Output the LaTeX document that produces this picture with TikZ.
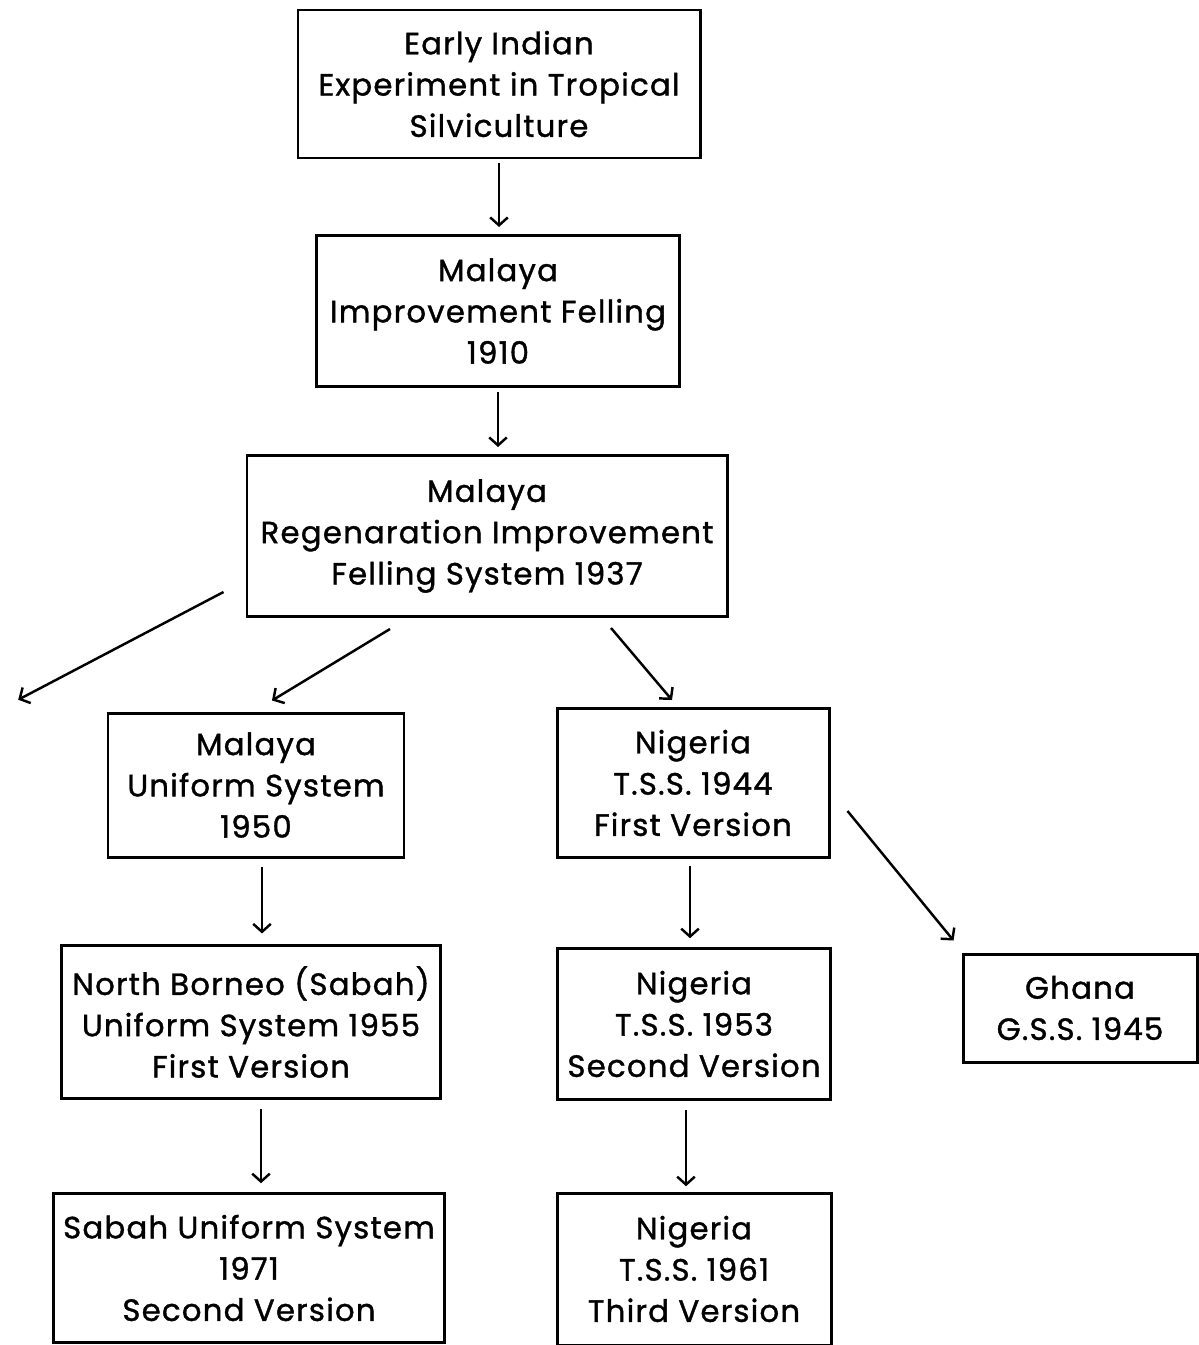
\documentclass[tikz,border=0pt]{standalone}
\usepackage{fontspec}
\setmainfont{Poppins}[LetterSpace=4, FakeBold=1.2]
\usetikzlibrary{positioning,calc,arrows.meta}

\begin{document}
\begin{tikzpicture}[
        x=0.02cm, y=-0.02cm,
        >={Straight Barb[length=4.5pt,width=10pt]},
        box/.style={draw, line width=1.7pt, align=center, inner sep=2pt,
                    font=\fontsize{17.5}{23.5}\selectfont},
        link/.style={line width=1.4pt, shorten >=4pt, shorten <=2pt}
      ]
      \useasboundingbox (0,0) rectangle (1199,1345);

      \node (E) [box, minimum width=402*0.02cm, minimum height=148*0.02cm] at (499,84) {Early Indian\\Experiment in Tropical\\Silviculture};
      \node (I) [box, minimum width=363*0.02cm, minimum height=151*0.02cm] at (498,311) {Malaya\\Improvement Felling\\1910};
      \node (R) [box, minimum width=480*0.02cm, minimum height=161*0.02cm] at (487,536) {Malaya\\Regenaration Improvement\\Felling System 1937};

      \node (U) [box, minimum width=296*0.02cm, minimum height=144*0.02cm] at (256,785) {Malaya\\Uniform System\\1950};
      \node (B) [box, minimum width=379*0.02cm, minimum height=153*0.02cm] at (251,1022) {North Borneo (Sabah)\\Uniform System 1955\\First Version};
      \node (S) [box, minimum width=391*0.02cm, minimum height=149*0.02cm] at (249,1268) {Sabah Uniform System\\1971\\Second Version};

      \node (N1) [box, minimum width=272*0.02cm, minimum height=149*0.02cm] at (693,783) {Nigeria\\T.S.S. 1944\\First Version};
      \node (N2) [box, minimum width=273*0.02cm, minimum height=151*0.02cm] at (694,1024) {Nigeria\\T.S.S. 1953\\Second Version};
      \node (N3) [box, minimum width=274*0.02cm, minimum height=152*0.02cm] at (694,1269) {Nigeria\\T.S.S. 1961\\Third Version};

      \node (G) [box, minimum width=234*0.02cm, minimum height=108*0.02cm] at (1080,1008) {Ghana\\G.S.S. 1945};

      \coordinate (away) at (12,703);

      % main line
      \path[->] (E.south) edge[link] (E.south |- I.north);
      \path[->] (I.south) edge[link] (I.south |- R.north);

      % branches
      \path[->] ($(R.west)+(-22,56)$) edge[link, shorten <=0pt] (away);
      \path[->] ($(R.south)+(-97,11)$) edge[link, shorten <=0pt, shorten >=0pt] ($(U.north)+(16,-11)$);
      \path[->] ($(R.south)+(124,10)$) edge[link, shorten <=0pt, shorten >=0pt] ($(N1.north)+(-21,-7)$);
      \path[->] ($(N1.east)+(17,28)$) edge[link, shorten <=0pt, shorten >=0pt] ($(G.north west)+(-8,-12)$);

      % columns
      \path[->] ($(U.south)+(6,0)$) edge[link, shorten <=5pt, shorten >=6pt] ($(U.south |- B.north)+(6,0)$);
      \path[->] ($(B.south)+(10,0)$) edge[link, shorten <=5pt, shorten >=5pt] ($(B.south |- S.north)+(10,0)$);
      \path[->] ($(N1.south)+(-3,0)$) edge[link, shorten <=4pt, shorten >=5pt] ($(N1.south |- N2.north)+(-3,0)$);
      \path[->] ($(N2.south)+(-8,0)$) edge[link, shorten <=5pt, shorten >=3pt] ($(N2.south |- N3.north)+(-8,0)$);

    \end{tikzpicture}
\end{document}
